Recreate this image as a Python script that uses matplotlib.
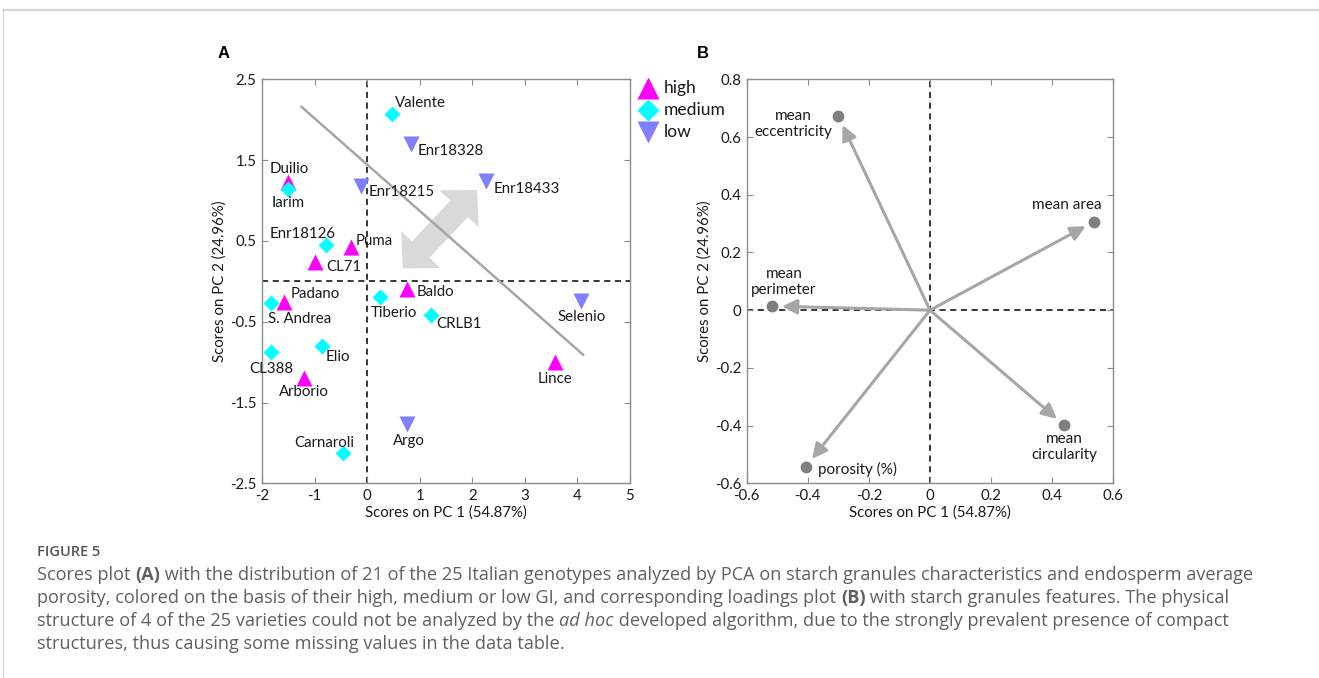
"""
PCA scores (A) and loadings (B) of Italian rice genotypes.
"""

import numpy as np
import matplotlib
matplotlib.use('Agg')
import matplotlib.pyplot as plt
from matplotlib.patches import Polygon, FancyArrowPatch
from matplotlib.lines import Line2D
from matplotlib.ticker import FuncFormatter
from matplotlib.transforms import IdentityTransform

plt.rcParams['font.family'] = ['Lato', 'DejaVu Sans']
plt.rcParams['axes.unicode_minus'] = False

# scores plot data
genotypes = ['Valente', 'Enr18328', 'Duilio', 'Iarim', 'Enr18215', 'Enr18433',
             'Enr18126', 'Puma', 'CL71', 'Baldo', 'Padano', 'S. Andrea',
             'Tiberio', 'CRLB1', 'Selenio', 'Elio', 'CL388', 'Arborio',
             'Lince', 'Argo', 'Carnaroli']
pc1_scores = [0.47, 0.83, -1.50, -1.50, -0.12, 2.27, -0.79, -0.31, -0.99, 0.76,
              -1.58, -1.83, 0.24, 1.21, 4.06, -0.86, -1.83, -1.20, 3.58, 0.75,
              -0.46]
pc2_scores = [2.07, 1.70, 1.23, 1.14, 1.18, 1.24, 0.45, 0.43, 0.24, -0.09,
              -0.25, -0.27, -0.20, -0.42, -0.24, -0.80, -0.87, -1.20, -1.00,
              -1.77, -2.13]
gi_class = ['medium', 'low', 'high', 'medium', 'low', 'low', 'medium', 'high',
            'high', 'high', 'high', 'medium', 'medium', 'medium', 'low',
            'medium', 'medium', 'high', 'high', 'low', 'medium']
gi_levels = ['high', 'medium', 'low']

# loadings plot data
features = ['mean\neccentricity', 'mean area', 'mean\nperimeter',
            'mean\ncircularity', 'porosity (%)']
pc1_loadings = [-0.30, 0.538, -0.517, 0.44, -0.406]
pc2_loadings = [0.672, 0.307, 0.014, -0.399, -0.542]

x_ticks_a = [-2, -1, 0, 1, 2, 3, 4, 5]
y_ticks_a = [-2.5, -1.5, -0.5, 0.5, 1.5, 2.5]
x_ticks_b = [-0.6, -0.4, -0.2, 0, 0.2, 0.4, 0.6]
y_ticks_b = [-0.6, -0.4, -0.2, 0, 0.2, 0.4, 0.6, 0.8]

# styles
styles = {'high': ('^', '#ff00ff', 11.5),
          'medium': ('D', '#00ffff', 8.5),
          'low': ('v', '#7f7fff', 11.5)}
# label offsets in pixels (dx, dy, ha)
label_pos_a = [(3, 11, 'left'), (7, -7, 'left'), (1, 13, 'center'),
               (0, -14, 'center'), (8, -6, 'left'), (7, -8, 'left'),
               (-23, 11, 'center'), (5, 6, 'left'), (11, -5, 'left'),
               (10, -3, 'left'), (7, 8, 'left'), (-3, -16, 'left'),
               (14, -16, 'center'), (5, -9, 'left'), (1, -16, 'center'),
               (4, -11, 'left'), (0, -17, 'center'), (0, -14, 'center'),
               (0, -17, 'center'), (2, -17, 'center'), (-19, 10, 'center')]
label_pos_b = [(-45, -8, 'center'), (-28, 17, 'center'), (12, 24, 'center'),
               (0, -22, 'center'), (12, -3, 'left')]

TXT = '#1a1a1a'
SPINE = '#8c8c8c'
FS = 10.8


def style_axes(ax, xt, yt, xl, yl):
    ax.set_xticks(xt)
    ax.set_yticks(yt)
    fmt = FuncFormatter(lambda v, p: '{:g}'.format(round(v, 3)))
    ax.xaxis.set_major_formatter(fmt)
    ax.yaxis.set_major_formatter(fmt)
    ax.set_xlim(xt[0], xt[-1])
    ax.set_ylim(yt[0], yt[-1])
    ax.tick_params(direction='in', length=4, width=0.8, color=SPINE,
                   top=True, right=True, labelsize=FS, labelcolor=TXT, pad=4)
    for s in ax.spines.values():
        s.set_color(SPINE)
        s.set_linewidth(1.0)
    ax.set_xlabel(xl, fontsize=FS, color=TXT, labelpad=2)
    ax.set_ylabel(yl, fontsize=FS, color=TXT, labelpad=2)
    ax.axhline(0, color='black', ls=(0, (4, 3)), lw=1.1, zorder=1)
    ax.axvline(0, color='black', ls=(0, (4, 3)), lw=1.1, zorder=1)


def double_arrow(ax, p0, p1, hl=26, hh=27, sh=12, color='#d9d9d9'):
    a = ax.transData.transform(p0)
    b = ax.transData.transform(p1)
    u = (b - a) / np.hypot(*(b - a))
    n = np.array([-u[1], u[0]])
    verts = [a, a + u * hl + n * hh, a + u * hl + n * sh, b - u * hl + n * sh,
             b - u * hl + n * hh, b, b - u * hl - n * hh, b - u * hl - n * sh,
             a + u * hl - n * sh, a + u * hl - n * hh]
    poly = Polygon(verts, closed=True, facecolor=color, edgecolor='none',
                   transform=IdentityTransform(), zorder=2)
    ax.add_artist(poly)


def caption_line(fig, x, y, runs, size, color):
    r = fig.canvas.get_renderer()
    for txt, kw in runs:
        t = fig.text(x, y, txt, fontsize=size, color=color, va='center',
                     family=['Open Sans', 'DejaVu Sans'],
                     transform=IdentityTransform(), **kw)
        x += t.get_window_extent(r).width


def main():
    W, H = 1319, 678
    fig = plt.figure(figsize=(W / 100, H / 100), dpi=100)

    # panel A
    axa = fig.add_axes([262 / W, 1 - 483.3 / H, 368 / W, 404 / H])
    style_axes(axa, x_ticks_a, y_ticks_a, 'Scores on PC 1 (54.87%)',
               'Scores on PC 2 (24.96%)')
    axa.plot([-1.25, 4.11], [2.16, -0.91], color='#a6a6a6', lw=1.8, zorder=3)
    double_arrow(axa, (0.68, 0.16), (2.09, 1.13))
    for name, x, y, g, (dx, dy, ha) in zip(genotypes, pc1_scores, pc2_scores,
                                         gi_class, label_pos_a):
        m, c, ms = styles[g]
        axa.plot(x, y, marker=m, color=c, ms=ms, mec='none', zorder=5)
        axa.annotate(name, (x, y), xytext=(dx, dy), textcoords='offset pixels',
                     ha=ha, va='center', fontsize=FS, color=TXT, zorder=6)
    # legend
    for i, g in enumerate(gi_levels):
        m, c, ms = styles[g]
        yy = 0.978 - 0.0545 * i
        axa.plot(1.05, yy, marker=m, color=c, ms=ms * 1.35, mec='none',
                 transform=axa.transAxes, clip_on=False)
        axa.text(1.093, yy, g, transform=axa.transAxes, fontsize=12.6,
                 va='center', color=TXT)

    # panel B
    axb = fig.add_axes([746.7 / W, 1 - 483.3 / H, 366.6 / W, 404 / H])
    style_axes(axb, x_ticks_b, y_ticks_b, 'Scores on PC 1 (54.87%)',
               'Scores on PC 2 (24.96%)')
    for name, x, y, (dx, dy, ha) in zip(features, pc1_loadings, pc2_loadings,
                                        label_pos_b):
        arr = FancyArrowPatch((0, 0), (x, y),
                              arrowstyle='-|>,head_length=0.45,head_width=0.22',
                              mutation_scale=20, color='#a6a6a6', lw=2.2,
                              shrinkA=0, shrinkB=7, zorder=3)
        axb.add_patch(arr)
        axb.plot(x, y, 'o', color='#7f7f7f', ms=8.5, mec='none', zorder=5)
        axb.annotate(name, (x, y), xytext=(dx, dy), textcoords='offset pixels',
                     ha=ha, va='center', fontsize=11, color=TXT,
                     multialignment='center', linespacing=1.15, zorder=6)

    # panel letters
    for x, lab in [(224, 'A'), (703, 'B')]:
        fig.text(x, H - 53, lab, fontsize=12, fontweight='bold',
                 family='Liberation Sans', ha='center', va='center',
                 transform=IdentityTransform())

    # frame lines
    fig.add_artist(Line2D([3, W], [H - 10, H - 10], color='#d6d6d6', lw=1.6,
                          transform=IdentityTransform()))
    fig.add_artist(Line2D([3, 3], [0, H - 10], color='#d6d6d6', lw=0.8,
                          transform=IdentityTransform()))

    # caption
    cap = '#5f5f5f'
    fig.text(37, H - 552, 'FIGURE 5', fontsize=10.5, color='#555555',
             family=['Open Sans', 'DejaVu Sans'], fontweight='semibold',
             va='center', transform=IdentityTransform())
    norm, bold, ital = {}, {'fontweight': 'bold'}, {'style': 'italic'}
    lines = [
        [('Scores plot ', norm), ('(A)', bold),
         (' with the distribution of 21 of the 25 Italian genotypes analyzed '
          'by PCA on starch granules characteristics and endosperm average',
          norm)],
        [('porosity, colored on the basis of their high, medium or low GI, and '
          'corresponding loadings plot ', norm), ('(B)', bold),
         (' with starch granules features. The physical', norm)],
        [('structure of 4 of the 25 varieties could not be analyzed by the ',
          norm), ('ad hoc', ital),
         (' developed algorithm, due to the strongly prevalent presence of '
          'compact', norm)],
        [('structures, thus causing some missing values in the data table.',
          norm)],
    ]
    for i, runs in enumerate(lines):
        caption_line(fig, 37, H - (575 + 23 * i), runs, 13.1, cap)

    fig.savefig('out.png', dpi=100)


if __name__ == '__main__':
    main()
